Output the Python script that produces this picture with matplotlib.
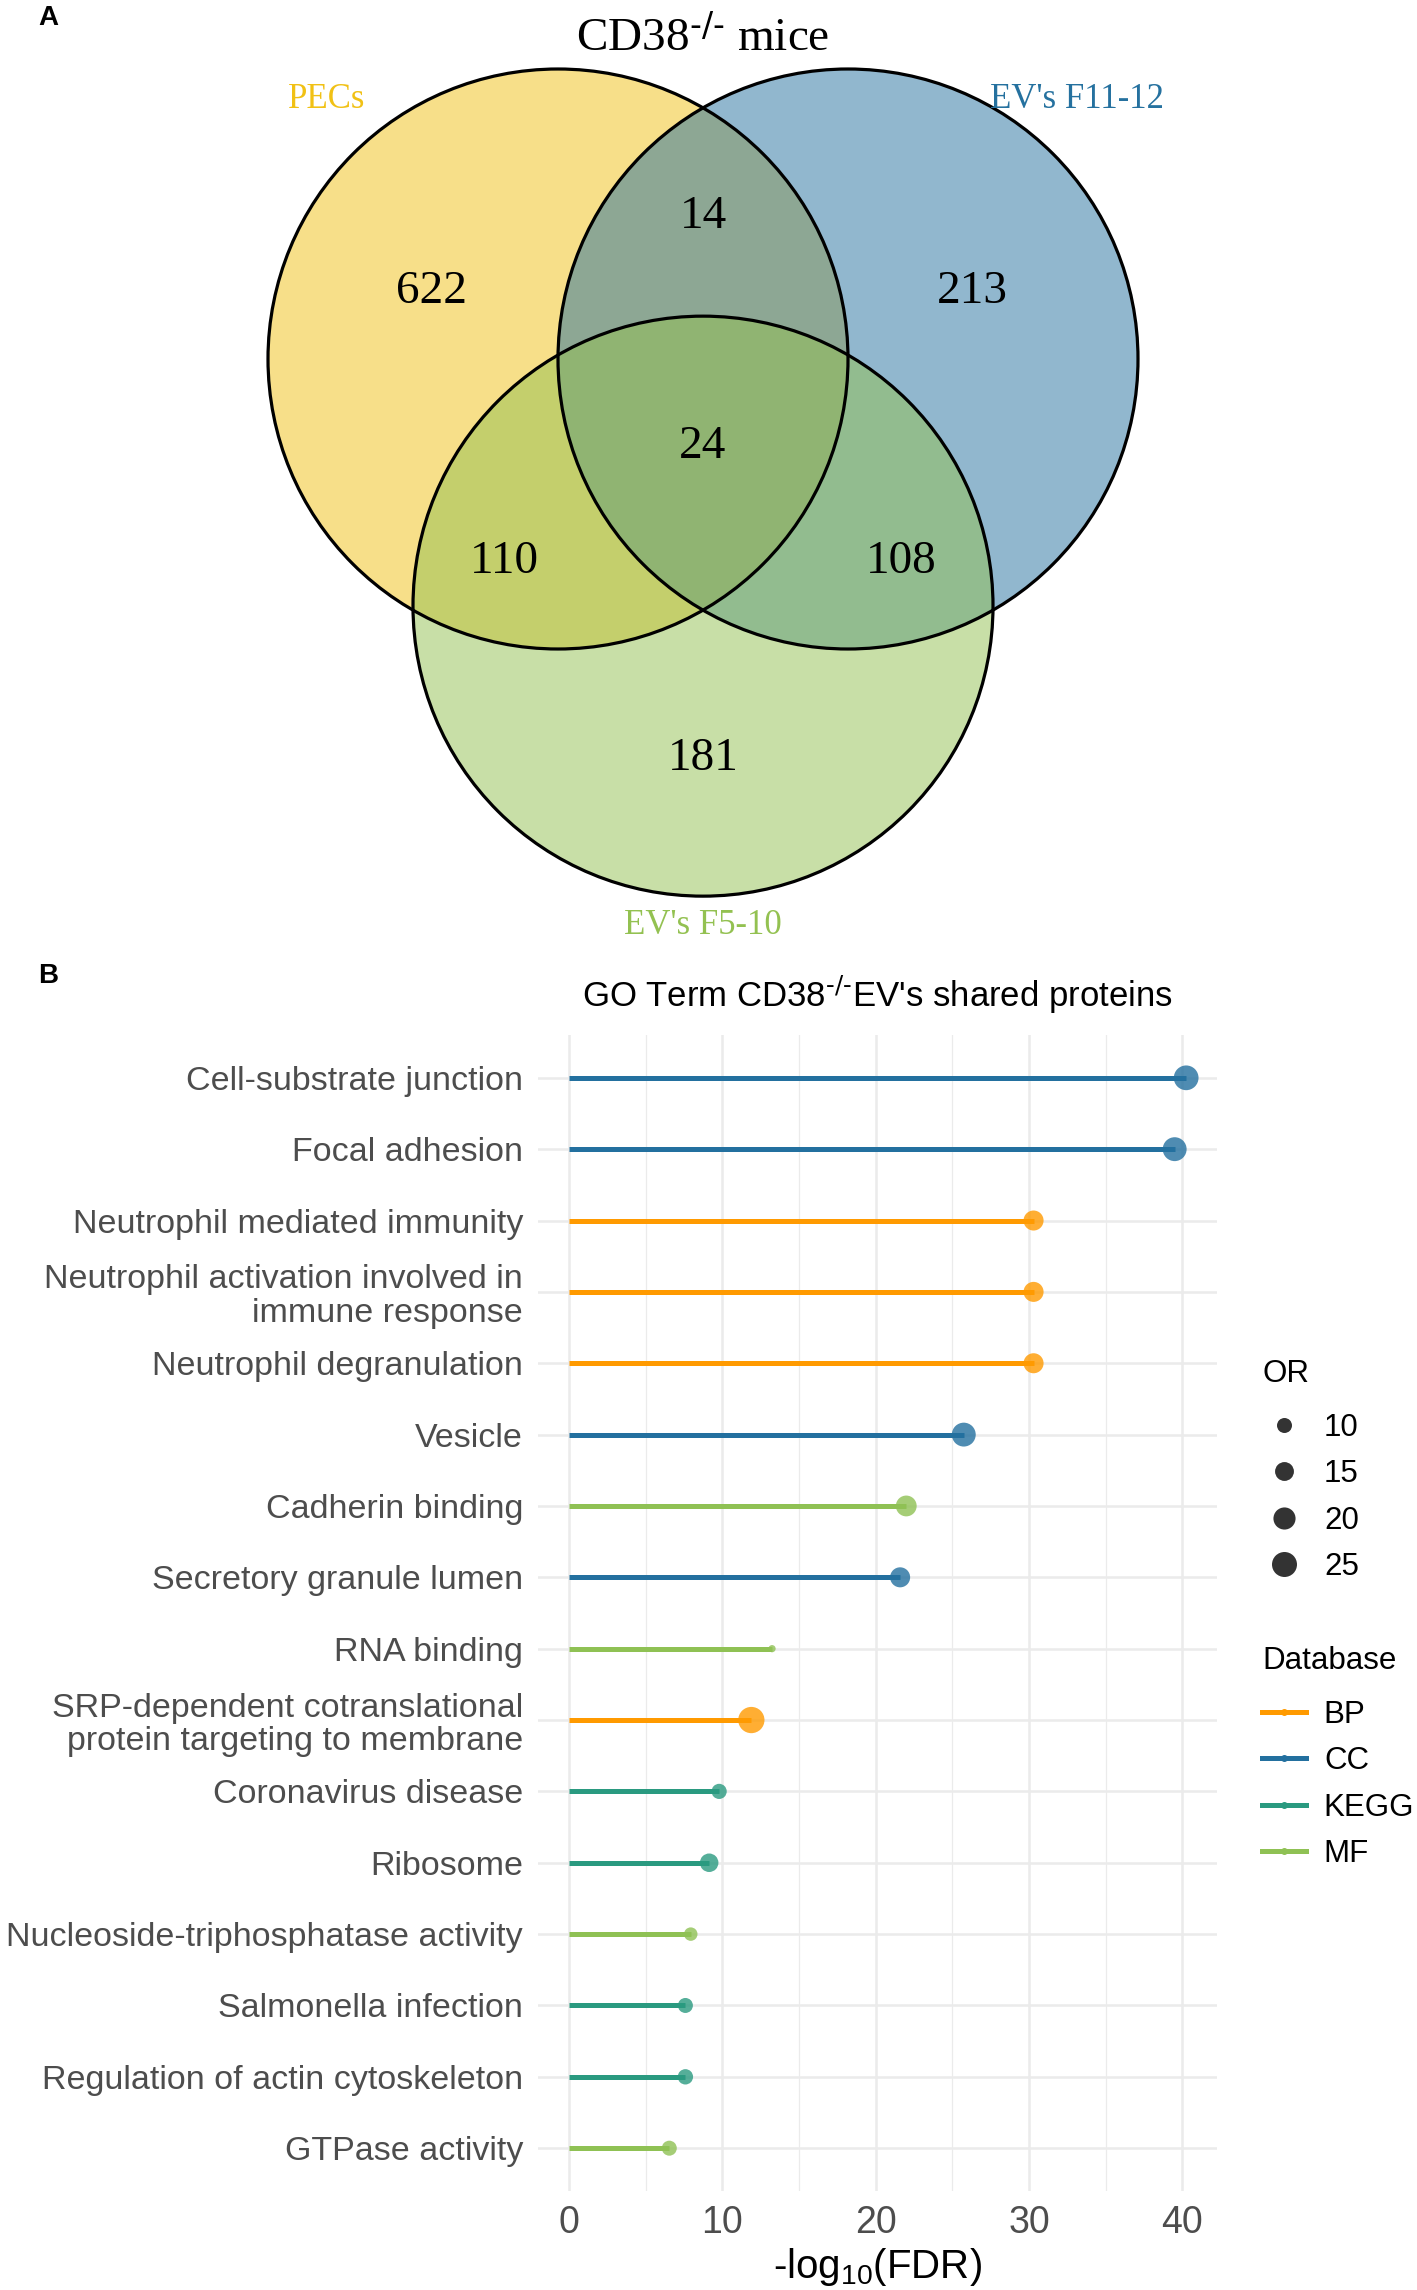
import numpy as np
import matplotlib.pyplot as plt
from matplotlib.patches import Circle
from matplotlib.lines import Line2D

plt.rcParams['font.family'] = ['Liberation Sans', 'DejaVu Sans']

# ---------------- panel A: venn of protein sets ----------------
set_names = ["PECs", "EV's F11-12", "EV's F5-10"]
set_colors = ["#F1C115", "#25719F", "#93C151"]
# only PECs, only F11-12, only F5-10, PECs&F11, PECs&F5, F11&F5, all three
region_counts = [622, 213, 181, 14, 110, 108, 24]

# ---------------- panel B: GO term lollipop ----------------
terms = ["Cell-substrate junction",
         "Focal adhesion",
         "Neutrophil mediated immunity",
         "Neutrophil activation involved in\nimmune response",
         "Neutrophil degranulation",
         "Vesicle",
         "Cadherin binding",
         "Secretory granule lumen",
         "RNA binding",
         "SRP-dependent cotranslational\nprotein targeting to membrane",
         "Coronavirus disease",
         "Ribosome",
         "Nucleoside-triphosphatase activity",
         "Salmonella infection",
         "Regulation of actin cytoskeleton",
         "GTPase activity"]
neg_log_fdr = [40.25, 39.5, 30.3, 30.3, 30.3, 25.75, 22.0, 21.6, 13.25, 11.9,
               9.8, 9.15, 7.95, 7.6, 7.6, 6.55]
odds_ratio = [24.5, 23.0, 16.7, 16.7, 16.7, 23.0, 17.9, 16.7, 3.0, 27.4,
              10.2, 14.5, 8.3, 10.0, 10.4, 10.0]
database = ["CC", "CC", "BP", "BP", "BP", "CC", "MF", "CC", "MF", "BP",
            "KEGG", "KEGG", "MF", "KEGG", "KEGG", "MF"]
db_levels = ["BP", "CC", "KEGG", "MF"]
db_colors = ["#FF9A00", "#23709F", "#2A9A80", "#8FC154"]
or_breaks = [10, 15, 20, 25]
x_ticks = [0, 10, 20, 30, 40]

W, H = 1417, 2290
fig = plt.figure(figsize=(W / 100, H / 100), dpi=100)


def px2pt(d):
    return d * 72 / 100


def or_diam(v):
    # point diameter (px) for an odds ratio, area style scale
    return 5.44 * np.sqrt(v) - 2.2


# ---- venn ----
VH = 950
axv = fig.add_axes([0, 1 - VH / H, 1, VH / H])
axv.set_xlim(0, W)
axv.set_ylim(VH, 0)
axv.axis('off')

r = 290
cx, cy = 703, 359
centers = [(cx - r / 2, cy), (cx + r / 2, cy), (cx, cy + r * np.sqrt(3) / 2 - 4)]
for (x, y), c in zip(centers, set_colors):
    axv.add_patch(Circle((x, y), r, facecolor=c, alpha=0.5, edgecolor='none'))
for (x, y) in centers:
    axv.add_patch(Circle((x, y), r, facecolor='none', edgecolor='black', lw=2.3))

count_pos = [(432, 292), (972, 292), (703, 759), (703, 217), (504, 562), (901, 562), (703, 447)]
for n, (x, y) in zip(region_counts, count_pos):
    axv.text(x, y, str(n), fontsize=34, family='Liberation Serif', ha='center', va='center')

name_pos = [(327, 100), (1077, 100), (703, 926)]
for name, c, (x, y) in zip(set_names, set_colors, name_pos):
    axv.text(x, y, name, color=c, fontsize=25, family='Liberation Serif', ha='center', va='center')

axv.text(703, 38, r"CD38$\mathdefault{^{\text{-/-}}}$ mice", fontsize=34, family='Liberation Serif',
         ha='center', va='center')

# ---- lollipop ----
ax = fig.add_axes([538 / W, 1 - 2191 / H, (1217 - 538) / W, (2191 - 1035) / H])
ypos = np.arange(len(terms))
col_map = dict(zip(db_levels, db_colors))
cols = [col_map[d] for d in database]

ax.hlines(ypos, 0, neg_log_fdr, colors=cols, lw=3.6, zorder=2)
sizes = [px2pt(or_diam(v)) ** 2 for v in odds_ratio]
ax.scatter(neg_log_fdr, ypos, s=sizes, c=cols, alpha=0.8, edgecolors='none', zorder=3)

ax.set_xlim(-2.01, 42.26)
ax.set_ylim(len(terms) - 0.4, -0.6)
ax.set_xticks(x_ticks)
ax.set_xticks([5, 15, 25, 35], minor=True)
ax.set_yticks(ypos)
ax.set_yticklabels(terms, linespacing=1.12)
ax.tick_params(axis='y', length=0, pad=10.8, labelsize=24.5, labelcolor='#4D4D4D')
ax.tick_params(axis='x', which='both', length=0, pad=10, labelsize=27, labelcolor='#4D4D4D')
ax.set_axisbelow(True)
ax.grid(which='major', color='#EBEBEB', lw=1.8)
ax.grid(which='minor', axis='x', color='#EBEBEB', lw=0.9)
for s in ax.spines.values():
    s.set_visible(False)
ax.set_xlabel(r"-log$\mathdefault{_{10}}$(FDR)", fontsize=29, labelpad=4)
ax.set_title(r"GO Term CD38$\mathdefault{^{\text{-/-}}}$EV's shared proteins", fontsize=25, pad=20.5)

# legends
lsp = 0.53
or_handles = [Line2D([], [], ls='none', marker='o', color='black', alpha=0.8, mec='none',
                     markersize=px2pt(or_diam(v))) for v in or_breaks]
leg1 = fig.legend(or_handles, [str(v) for v in or_breaks], title='OR', loc='upper left',
                  bbox_to_anchor=(1262 / W, 1 - 1359 / H), frameon=False, fontsize=22.5,
                  title_fontsize=22.5, alignment='left', handlelength=1.4, handletextpad=0.58,
                  labelspacing=lsp, borderpad=0, borderaxespad=0)
db_handles = [Line2D([], [], color=c, lw=3.6, marker='o', markersize=4) for c in db_colors]
leg2 = fig.legend(db_handles, db_levels, title='Database', loc='upper left',
                  bbox_to_anchor=(1262 / W, 1 - 1646 / H), frameon=False, fontsize=22.5,
                  title_fontsize=22.5, alignment='left', handlelength=1.4, handletextpad=0.58,
                  labelspacing=lsp, borderpad=0, borderaxespad=0)
# a bit more room between legend title and keys, as in ggplot
for lg in (leg1, leg2):
    lg._legend_box.sep = lsp * 22.5 + 5

fig.text(48 / W, 1 - 18 / H, 'A', fontsize=20, weight='bold', ha='center', va='center')
fig.text(48 / W, 1 - 976 / H, 'B', fontsize=20, weight='bold', ha='center', va='center')

fig.savefig('out.png', dpi=100)
